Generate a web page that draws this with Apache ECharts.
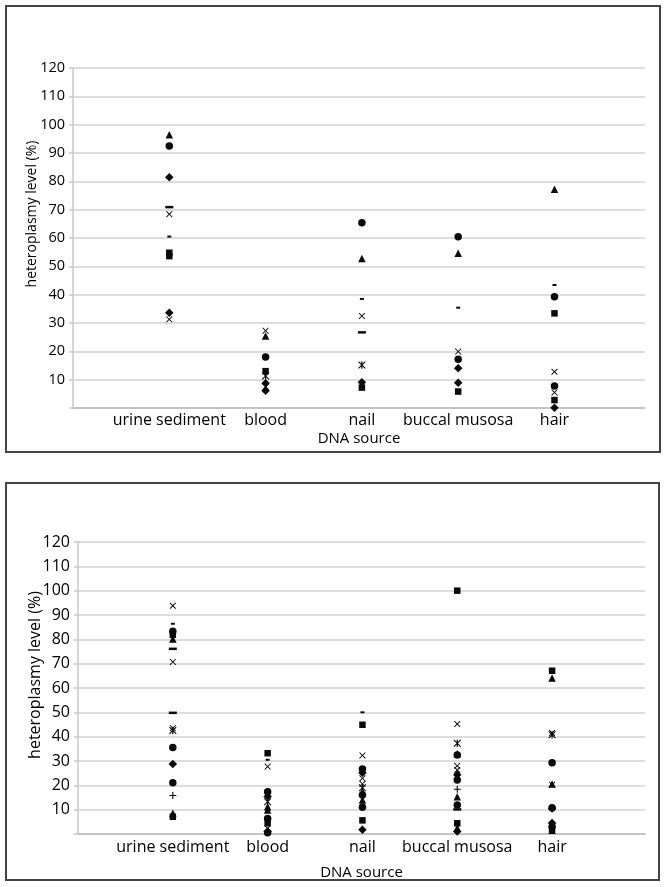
<!DOCTYPE html>
<html>
<head>
<meta charset="utf-8">
<script src="https://cdn.jsdelivr.net/npm/echarts@6/dist/echarts.min.js"></script>
<style>
  html, body { margin: 0; padding: 0; background: #fff; }
  #chart { width: 666px; height: 887px; }
</style>
</head>
<body>
<div id="chart"></div>
<script>
// categories on the x axis (same for both panels)
const categories = ["urine sediment", "blood", "nail", "buccal musosa", "hair"];
const yMin = 0;
const yMax = 120;
const yStep = 10;

// upper panel, one array per subject: [urine, blood, nail, buccal, hair]
const topDiamondA = [81.4, 8.7, 9.1, 14.0, 0.1];
const topSquareA = [54.8, 13.0, 7.2, 5.8, 33.4];
const topTriangleA = [96.4, 25.4, 52.8, 54.6, 77.2];
const topCrossA = [68.4, 27.3, 32.5, 19.9, 12.8];
const topStarA = [null, 11.3, 15.2, null, null];
const topCircleA = [92.5, 18.0, 65.4, 60.4, 39.3];
const topLongDashA = [70.9, null, 26.7, null, null];
const topShortDashA = [60.5, null, 38.5, 35.4, 43.4];
const topDiamondB = [33.6, 6.1, null, 8.9, null];
const topSquareB = [53.6, null, null, null, 2.8];
const topCrossB = [31.3, 7.5, null, null, 5.5];
const topCircleB = [null, null, null, 17.2, 7.8];

// lower panel
const botDiamondA = [28.8, 15.4, 25.2, 24.3, 10.5];
const botSquareA = [7.1, 33.2, 44.9, 100, 67.1];
const botTriangleA = [8.5, 11.2, 17.5, 15.3, 64.1];
const botCrossA = [93.8, 27.7, 32.3, 45.2, 41.5];
const botStarA = [42.5, 13.3, 19.0, 37.3, 40.8];
const botCircleA = [35.5, 17.4, 26.7, 22.2, 29.3];
const botPlusA = [15.8, null, null, 18.4, null];
const botLongDashA = [76.1, null, null, 10.1, null];
const botShortDashA = [86.4, 30.5, 50.0, null, null];
const botCircleB = [83.3, 6.4, 16.0, 32.5, 10.8];
const botSquareB = [81.9, 4.4, 5.6, 4.4, 2.0];
const botTriangleB = [80.1, 9.9, 14.0, 33.0, 20.5];
const botCrossB = [70.7, 2.3, 22.9, 28.0, 20.2];
const botLongDashB = [49.8, null, null, null, null];
const botCircleC = [21.1, 0.5, 11.0, 11.9, 3.0];
const botDiamondB = [null, 1.0, 1.7, 1.0, 4.5];
const botCrossC = [43.5, null, 20.6, 26.3, null];
const botTriangleC = [null, null, null, 2.5, 1.5];

// marker styles (excel-like black markers)
const markers = {
  diamond: { symbol: "diamond", size: 8.5 },
  square: { symbol: "rect", size: 6.5 },
  triangle: { symbol: "triangle", size: 7.5 },
  cross: {
    symbol: "path://M1,0 L5,4 L9,0 L10,1 L6,5 L10,9 L9,10 L5,6 L1,10 L0,9 L4,5 L0,1 Z",
    size: 6.5,
  },
  star: {
    symbol: "path://M1,0 L5,4 L9,0 L10,1 L6,5 L10,9 L9,10 L5,6 L1,10 L0,9 L4,5 L0,1 Z M4.2,0 L5.8,0 L5.8,10 L4.2,10 Z",
    size: 7.5,
  },
  circle: { symbol: "circle", size: 7.5 },
  plus: {
    symbol: "path://M4.2,0 L5.8,0 L5.8,4.2 L10,4.2 L10,5.8 L5.8,5.8 L5.8,10 L4.2,10 L4.2,5.8 L0,5.8 L0,4.2 L4.2,4.2 Z",
    size: 7,
  },
  longDash: { symbol: "rect", size: [8, 2.5] },
  shortDash: { symbol: "rect", size: [4, 2] },
};

const topSeries = [
  [topDiamondA, "diamond"], [topSquareA, "square"], [topTriangleA, "triangle"],
  [topCrossA, "cross"], [topStarA, "star"], [topCircleA, "circle"],
  [topLongDashA, "longDash"], [topShortDashA, "shortDash"], [topDiamondB, "diamond"],
  [topSquareB, "square"], [topCrossB, "cross"], [topCircleB, "circle"],
];
const botSeries = [
  [botDiamondA, "diamond"], [botSquareA, "square"], [botTriangleA, "triangle"],
  [botCrossA, "cross"], [botStarA, "star"], [botCircleA, "circle"],
  [botPlusA, "plus"], [botLongDashA, "longDash"], [botShortDashA, "shortDash"],
  [botCircleB, "circle"], [botSquareB, "square"], [botTriangleB, "triangle"],
  [botCrossB, "cross"], [botLongDashB, "longDash"], [botCircleC, "circle"],
  [botDiamondB, "diamond"], [botCrossC, "cross"], [botTriangleC, "triangle"],
];

const FONT = "Open Sans";
const TXT = "#000";

function toPoints(values) {
  const pts = [];
  values.forEach((v, i) => {
    if (v !== null) pts.push([i + 1, v]);
  });
  return pts;
}

function buildSeries(list, gridIndex) {
  return list.map(([values, key], k) => ({
    type: "scatter",
    name: (gridIndex ? "B" : "A") + (k + 1),
    xAxisIndex: gridIndex,
    yAxisIndex: gridIndex,
    symbol: markers[key].symbol,
    symbolSize: markers[key].size,
    itemStyle: { color: "#0a0a0a", opacity: 1 },
    emphasis: { disabled: true },
    data: toPoints(values),
  }));
}

function xAxisFor(gridIndex, max, nameGap, margin) {
  return {
    type: "value",
    gridIndex: gridIndex,
    min: 0,
    max: max,
    interval: 1,
    name: "DNA source",
    nameLocation: "middle",
    nameGap: nameGap,
    nameTextStyle: { fontFamily: FONT, fontSize: 15, color: TXT },
    axisLine: { show: true, lineStyle: { color: "#bcbcbc", width: 1.5 } },
    axisTick: { show: false },
    splitLine: { show: false },
    axisLabel: {
      margin: margin,
      fontFamily: FONT,
      fontSize: 16,
      color: TXT,
      formatter: (v) => (Number.isInteger(v) && v >= 1 && v <= categories.length ? categories[v - 1] : ""),
    },
  };
}

function yAxisFor(gridIndex, fontSize) {
  return {
    type: "value",
    gridIndex: gridIndex,
    min: yMin,
    max: yMax,
    interval: yStep,
    axisLine: { show: true, lineStyle: { color: "#c8c8c8", width: 1.5 } },
    axisTick: { show: true, length: 4, lineStyle: { color: "#c8c8c8", width: 1.5 } },
    splitLine: { show: true, lineStyle: { color: "#d2d2d2", width: 1.5 } },
    axisLabel: {
      margin: 8,
      fontFamily: FONT,
      fontSize: fontSize,
      color: TXT,
      formatter: (v) => (v === 0 ? "" : String(v)),
    },
  };
}

const chart = echarts.init(document.getElementById("chart"), null, { renderer: "canvas" });

const option = {
  animation: false,
  backgroundColor: "#fff",
  grid: [
    { left: 73, right: 21, top: 68, height: 340 },
    { left: 78, right: 21, top: 542, height: 292 },
  ],
  xAxis: [xAxisFor(0, 5.94, 23, 4), xAxisFor(1, 5.98, 31, 5)],
  yAxis: [yAxisFor(0, 14.5), yAxisFor(1, 16)],
  graphic: [
    // panel frames
    {
      type: "rect",
      shape: { x: 6, y: 6, width: 654, height: 446 },
      style: { fill: "none", stroke: "#444", lineWidth: 2 },
      silent: true,
    },
    {
      type: "rect",
      shape: { x: 6, y: 483, width: 653, height: 397 },
      style: { fill: "none", stroke: "#444", lineWidth: 2 },
      silent: true,
    },
    // y axis titles
    {
      type: "text",
      x: 32,
      y: 214,
      rotation: Math.PI / 2,
      style: {
        text: "heteroplasmy level (%)",
        fontFamily: FONT,
        fontSize: 14,
        fill: TXT,
        align: "center",
        verticalAlign: "middle",
      },
      silent: true,
    },
    {
      type: "text",
      x: 35,
      y: 675,
      rotation: Math.PI / 2,
      style: {
        text: "heteroplasmy level (%)",
        fontFamily: FONT,
        fontSize: 16,
        fill: TXT,
        align: "center",
        verticalAlign: "middle",
      },
      silent: true,
    },
  ],
  series: buildSeries(topSeries, 0).concat(buildSeries(botSeries, 1)),
};

chart.setOption(option);
</script>
</body>
</html>
